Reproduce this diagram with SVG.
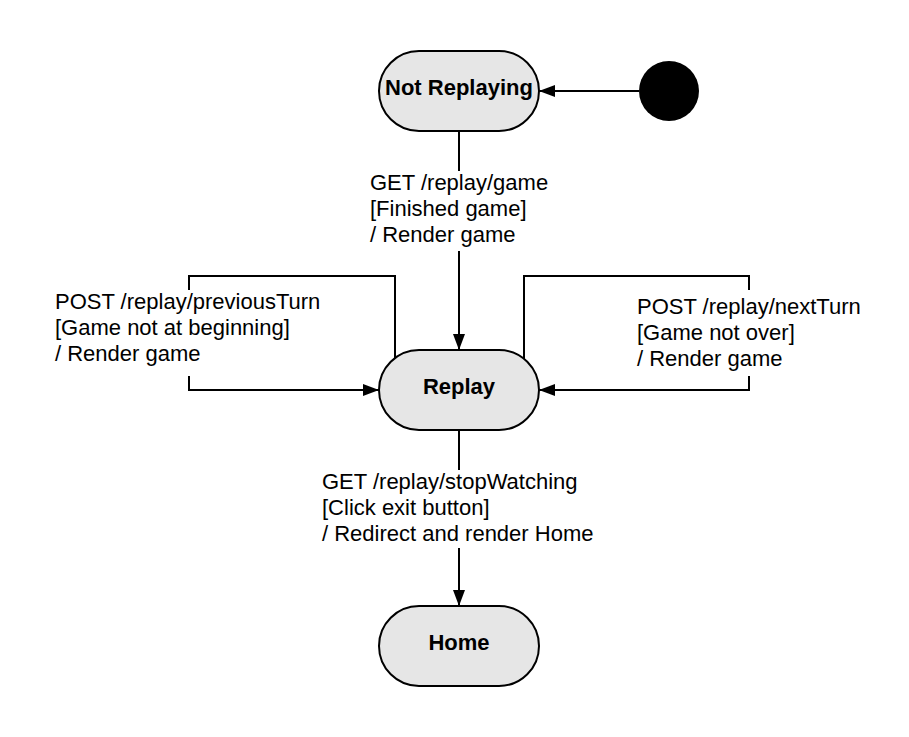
<svg xmlns="http://www.w3.org/2000/svg" width="909" height="737" viewBox="0 0 909 737">
<style>
.bg{fill:#ffffff}
.node{fill:#e6e6e6;stroke:#000;stroke-width:2}
.nl{font-family:"Liberation Sans",Arial,sans-serif;font-size:22px;font-weight:bold;fill:#000;text-anchor:middle}
.el{font-family:"Liberation Sans",Arial,sans-serif;font-size:22px;fill:#000}
.conn{fill:none;stroke:#000;stroke-width:2}
</style>
<defs>
<marker id="arr" viewBox="0 0 16 12" refX="16" refY="6" markerWidth="16" markerHeight="12" markerUnits="userSpaceOnUse" orient="auto">
<path d="M0,0 L16,6 L0,12 Z" fill="#000"/>
</marker>
</defs>
<rect class="bg" x="0" y="0" width="909" height="737"/>
<g id="connectors">
<path class="conn" d="M639,91 H539" marker-end="url(#arr)"/>
<path class="conn" d="M459,131 V171"/>
<path class="conn" d="M459,251 V350" marker-end="url(#arr)"/>
<path class="conn" d="M395,360 V276 H189 V290"/>
<path class="conn" d="M189,376 V390 H379" marker-end="url(#arr)"/>
<path class="conn" d="M524,360 V276 H749 V290"/>
<path class="conn" d="M749,376 V390 H539" marker-end="url(#arr)"/>
<path class="conn" d="M459,430 V470"/>
<path class="conn" d="M459,548 V606" marker-end="url(#arr)"/>
<text class="el" x="370" y="190">GET /replay/game</text>
<text class="el" x="370" y="216">[Finished game]</text>
<text class="el" x="370" y="242">/ Render game</text>
<text class="el" x="55" y="309">POST /replay/previousTurn</text>
<text class="el" x="55" y="335">[Game not at beginning]</text>
<text class="el" x="55" y="361">/ Render game</text>
<text class="el" x="637" y="314">POST /replay/nextTurn</text>
<text class="el" x="637" y="340">[Game not over]</text>
<text class="el" x="637" y="366">/ Render game</text>
<text class="el" x="322" y="489">GET /replay/stopWatching</text>
<text class="el" x="322" y="515">[Click exit button]</text>
<text class="el" x="322" y="541">/ Redirect and render Home</text>
</g>
<g id="start">
<circle cx="669" cy="91" r="30" fill="#000"/>
</g>
<g id="not-replaying">
<rect class="node" x="379" y="51" width="160" height="80" rx="40" ry="40"/>
<text class="nl" x="459" y="95">Not Replaying</text>
</g>
<g id="replay">
<rect class="node" x="379" y="350" width="160" height="80" rx="40" ry="40"/>
<text class="nl" x="459" y="394">Replay</text>
</g>
<g id="home">
<rect class="node" x="379" y="606" width="160" height="80" rx="40" ry="40"/>
<text class="nl" x="459" y="650">Home</text>
</g>
</svg>
